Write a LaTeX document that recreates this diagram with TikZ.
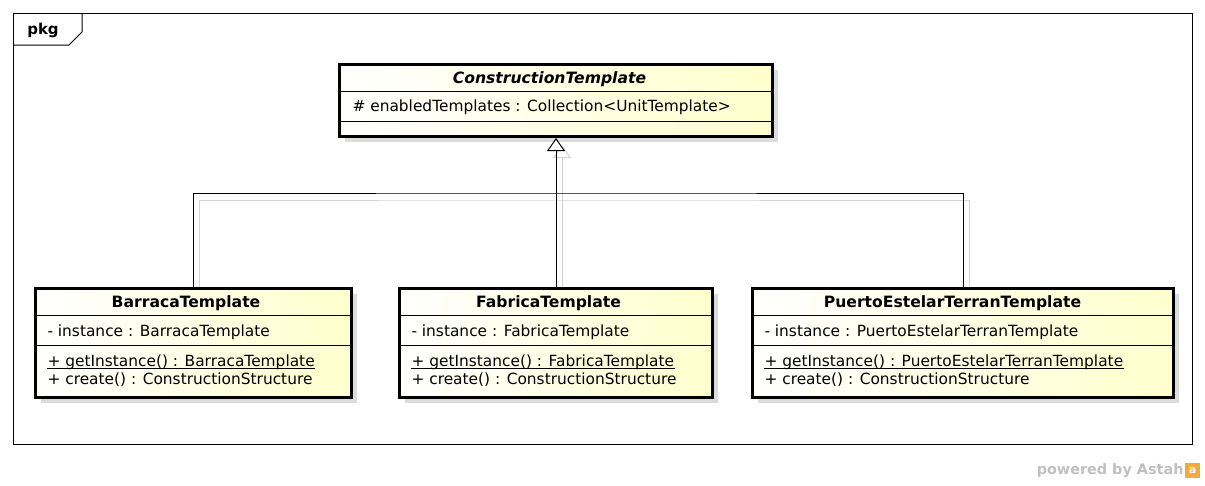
\documentclass[tikz,border=0pt]{standalone}
\usepackage{fontspec}
\setmainfont{DejaVu Sans}
\usetikzlibrary{arrows.meta,calc}
\definecolor{classyellow}{RGB}{255,255,204}
\definecolor{boxshadow}{RGB}{220,220,220}
\definecolor{lineshadow}{RGB}{212,212,212}
\definecolor{markgray}{RGB}{192,192,192}
\definecolor{astahorange}{RGB}{244,168,64}
\newcommand\umlclass[5]{{%
  \fill[boxshadow] (#2+7,#3+7) rectangle (#4+7,#5+7);
  \node[classbox,anchor=north west,minimum width=#4-#2,minimum height=#5-#3] (#1) at (#2,#3) {};}}
\newcommand\compline[2]{\draw[line width=1pt] (#1.west |- 0,#2) -- (#1.east |- 0,#2);}
\newcommand\staticline[1]{\draw[line width=0.9pt] ($(#1.base west)+(0,2.6)$) -- ($(#1.base east)+(0,2.6)$);}

\begin{document}
\begin{tikzpicture}[x=1pt,y=-1pt,line width=1pt,>=Stealth,
  font=\fontsize{15.4}{17}\selectfont,
  classbox/.style={draw,line width=3pt,left color=white,right color=classyellow,inner sep=0},
  classname/.style={inner sep=0,font=\fontsize{15.6}{17}\selectfont\bfseries},
  member/.style={anchor=west,inner sep=0},
  gentip/.style={-{Triangle[fill=white,width=18pt,length=13pt]}}]
\useasboundingbox (0,0) rectangle (1205,485);
% ---------- package frame ----------
\draw (13,13) rectangle (1192,444);
\draw (13,45) -- (69,45) -- (82,32) -- (82,13);
\node[classname,font=\fontsize{15}{17}\selectfont\bfseries] (pkg) at (43,30) {pkg};
% ---------- abstract parent ----------
\umlclass{ct}{338}{63}{771}{135}
\compline{ct}{91}\compline{ct}{121}
\node[classname,font=\fontsize{15.6}{17}\selectfont\bfseries\itshape] (ctname) at (549.5,79.5) {ConstructionTemplate};
\node[member] (ctattr) at (352,107) {\# enabledTemplates : Collection<UnitTemplate>};
% ---------- subclasses ----------
\umlclass{bar}{34}{287}{350}{396}
\compline{bar}{315}\compline{bar}{345}
\node[classname] (barname) at (186,303) {BarracaTemplate};
\node[member] (barattr) at (47,332) {- instance : BarracaTemplate};
\node[member] (barget) at (47,362) {+ getInstance() : BarracaTemplate};
\node[member] (barmake) at (47,379.5) {+ create() : ConstructionStructure};
\staticline{barget}
\umlclass{fab}{398}{287}{711}{396}
\compline{fab}{315}\compline{fab}{345}
\node[classname] (fabname) at (548.5,303) {FabricaTemplate};
\node[member] (fabattr) at (411,332) {- instance : FabricaTemplate};
\node[member] (fabget) at (411,362) {+ getInstance() : FabricaTemplate};
\node[member] (fabmake) at (411,379.5) {+ create() : ConstructionStructure};
\staticline{fabget}
\umlclass{pet}{751}{287}{1172}{396}
\compline{pet}{315}\compline{pet}{345}
\node[classname] (petname) at (952.5,303) {PuertoEstelarTerranTemplate};
\node[member] (petattr) at (764,332) {- instance : PuertoEstelarTerranTemplate};
\node[member] (petget) at (764,362) {+ getInstance() : PuertoEstelarTerranTemplate};
\node[member] (petmake) at (764,379.5) {+ create() : ConstructionStructure};
\staticline{petget}
% ---------- generalisation ----------
\coordinate (bus) at (554.5,193);
\draw[lineshadow] ($(bar.north)+(6,0)$) |- ($(bus)+(0,7)$) -| ($(pet.north)+(6,0)$);
\draw[lineshadow,gentip] ($(fab.north)+(6,0)$) -- ($(ct.south)+(6,7)$);
\draw (bar.north) |- (bus) -| (pet.north);
\draw[gentip] (fab.north) -- (ct.south);
% ---------- watermark ----------
\node[inner sep=0,anchor=east,text=markgray,font=\fontsize{14.4}{16}\selectfont\bfseries] (powered) at (1184,471) {powered by Astah};
\node[fill=astahorange,minimum size=15pt,inner sep=0,text=white,font=\fontsize{11}{11}\selectfont\bfseries] (logo) at (1192.5,470.5) {a};
\end{tikzpicture}
\end{document}
